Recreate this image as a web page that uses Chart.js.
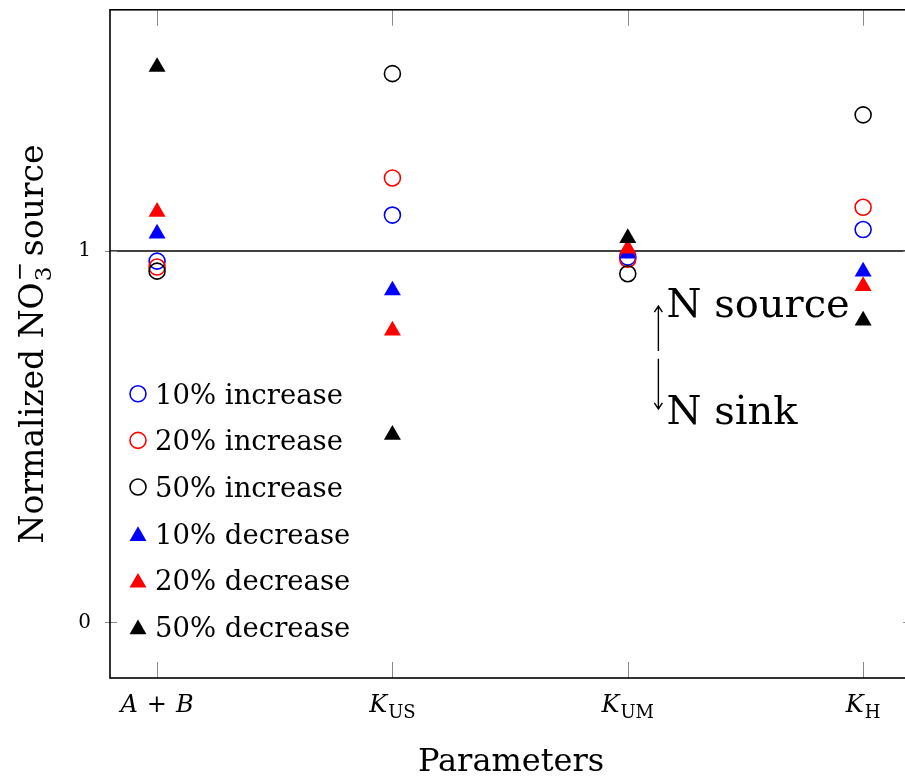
<!DOCTYPE html>
<html>
<head>
<meta charset="utf-8">
<title>Normalized NO3- source</title>
<script src="https://cdn.jsdelivr.net/npm/chart.js@4.4.1/dist/chart.umd.min.js"></script>
<style>
  html, body { margin: 0; padding: 0; background: #fff; overflow: hidden; }
  #wrap { width: 920px; height: 778px; }
</style>
</head>
<body>
<div id="wrap"><canvas id="chart" width="920" height="778"></canvas></div>
<script>
// categories use "_" for a subscript, "+" for the sum label
const CATEGORIES = ['A+B', 'K_US', 'K_UM', 'K_H'];

const INC_10 = [0.973, 1.097, 0.984, 1.058];
const INC_20 = [0.957, 1.197, 0.978, 1.118];
const INC_50 = [0.946, 1.478, 0.939, 1.367];
const DEC_10 = [1.047, 0.894, 0.993, 0.945];
const DEC_20 = [1.106, 0.786, 1.007, 0.906];
const DEC_50 = [1.496, 0.505, 1.035, 0.813];

const Y_TICKS = [0, 1];
const REFERENCE_LEVEL = 1;

const SERIF = '"DejaVu Serif", "Liberation Serif", serif';

const SERIES = [
  { label: '10% increase', values: INC_10, color: '#0000ff', shape: 'circle' },
  { label: '20% increase', values: INC_20, color: '#ff0000', shape: 'circle' },
  { label: '50% increase', values: INC_50, color: '#000000', shape: 'circle' },
  { label: '10% decrease', values: DEC_10, color: '#0000ff', shape: 'triangle' },
  { label: '20% decrease', values: DEC_20, color: '#ff0000', shape: 'triangle' },
  { label: '50% decrease', values: DEC_50, color: '#000000', shape: 'triangle' },
];

function markerStyle(series) {
  const circle = series.shape === 'circle';
  return {
    pointStyle: series.shape,
    radius: circle ? 8 : 9.8,
    borderWidth: circle ? 1.6 : 0,
    borderColor: series.color,
    backgroundColor: circle ? 'rgba(0,0,0,0)' : series.color,
  };
}

// draw a run of text pieces (font / vertical shift), centred or left-aligned
function drawPieces(ctx, pieces, x, baseline, align) {
  let total = 0;
  pieces.forEach((p) => {
    ctx.font = p.font;
    p.w = p.width != null ? p.width : ctx.measureText(p.text).width;
    total += p.w + (p.gap || 0);
  });
  let cursor = align === 'center' ? x - total / 2 : x;
  ctx.textAlign = 'left';
  ctx.textBaseline = 'alphabetic';
  pieces.forEach((p) => {
    ctx.font = p.font;
    ctx.fillText(p.text, cursor, baseline + (p.dy || 0));
    if (p.over) {
      ctx.font = p.over.font;
      ctx.fillText(p.over.text, cursor, baseline + p.over.dy);
    }
    cursor += p.w + (p.gap || 0);
  });
}

function categoryPieces(name) {
  const italic = `italic 24px ${SERIF}`;
  const upright = `24px ${SERIF}`;
  if (name.includes('_')) {
    const [base, sub] = name.split('_');
    return [
      { text: base, font: italic, gap: 1 },
      { text: sub, font: `18px ${SERIF}`, dy: 6 },
    ];
  }
  const [a, b] = name.split('+');
  return [
    { text: a, font: italic, gap: 9 },
    { text: '+', font: upright, gap: 9 },
    { text: b, font: italic },
  ];
}

function drawArrow(ctx, x, y1, y2) {
  const dir = y2 < y1 ? -1 : 1;
  ctx.beginPath();
  ctx.moveTo(x, y1);
  ctx.lineTo(x, y2);
  ctx.moveTo(x - 4, y2 - dir * 6);
  ctx.lineTo(x, y2);
  ctx.lineTo(x + 4, y2 - dir * 6);
  ctx.stroke();
}

const decorations = {
  id: 'decorations',
  beforeDatasetsDraw(chart) {
    const { ctx, chartArea, scales } = chart;
    const y = scales.y.getPixelForValue(REFERENCE_LEVEL);
    ctx.save();
    ctx.strokeStyle = '#000';
    ctx.lineWidth = 1.5;
    ctx.beginPath();
    ctx.moveTo(chartArea.left, y);
    ctx.lineTo(chartArea.right, y);
    ctx.stroke();

    // inward tick marks
    ctx.strokeStyle = '#8a8a8a';
    ctx.lineWidth = 1;
    CATEGORIES.forEach((c, i) => {
      const x = Math.round(scales.x.getPixelForValue(i)) + 0.5;
      ctx.beginPath();
      ctx.moveTo(x, chartArea.bottom);
      ctx.lineTo(x, chartArea.bottom - 16);
      ctx.moveTo(x, chartArea.top);
      ctx.lineTo(x, chartArea.top + 16);
      ctx.stroke();
    });
    Y_TICKS.forEach((v) => {
      const ty = Math.round(scales.y.getPixelForValue(v)) + 0.5;
      ctx.beginPath();
      ctx.moveTo(chartArea.left - 5, ty);
      ctx.lineTo(chartArea.left + 7, ty);
      ctx.moveTo(chartArea.right + 5, ty);
      ctx.lineTo(chartArea.right - 7, ty);
      ctx.stroke();
    });
    ctx.restore();
  },
  afterDraw(chart) {
    const { ctx, chartArea, scales } = chart;
    ctx.save();
    ctx.fillStyle = '#000';
    ctx.strokeStyle = '#000';

    // frame
    ctx.lineWidth = 1.6;
    ctx.strokeRect(chartArea.left, chartArea.top,
      chartArea.right - chartArea.left, chartArea.bottom - chartArea.top);

    // y tick labels
    ctx.font = `20px ${SERIF}`;
    ctx.textAlign = 'right';
    ctx.textBaseline = 'middle';
    Y_TICKS.forEach((v) => {
      ctx.fillText(String(v), chartArea.left - 19, scales.y.getPixelForValue(v));
    });

    // x tick labels
    CATEGORIES.forEach((c, i) => {
      drawPieces(ctx, categoryPieces(c), scales.x.getPixelForValue(i), chartArea.bottom + 34, 'center');
    });

    // axis titles
    ctx.font = `32px ${SERIF}`;
    ctx.textAlign = 'center';
    ctx.textBaseline = 'alphabetic';
    ctx.fillText('Parameters', (chartArea.left + chartArea.right) / 2 + 1, chartArea.bottom + 93);

    ctx.save();
    ctx.translate(43, (chartArea.top + chartArea.bottom) / 2);
    ctx.rotate(-Math.PI / 2);
    const big = `33px ${SERIF}`;
    const small = `23px ${SERIF}`;
    ctx.font = small;
    const subW = ctx.measureText('3').width;
    drawPieces(ctx, [
      { text: 'Normalized NO', font: big, gap: 1 },
      { text: '3', font: small, dy: 8, width: subW, over: { text: '\u2212', font: small, dy: -16 } },
      { text: ' source', font: big },
    ], 0, 0, 'center');
    ctx.restore();

    // legend
    SERIES.forEach((s, i) => {
      const cy = chartArea.top + 384 + i * 46.6;
      const cx = chartArea.left + 28;
      const m = markerStyle(s);
      ctx.fillStyle = m.backgroundColor;
      ctx.strokeStyle = m.borderColor;
      ctx.lineWidth = m.borderWidth;
      Chart.helpers.drawPoint(ctx, {
        pointStyle: m.pointStyle, radius: m.radius, rotation: 0, borderWidth: m.borderWidth,
      }, cx, s.shape === 'triangle' ? cy + 2.5 : cy);
      ctx.fillStyle = '#000';
      ctx.font = `27.5px ${SERIF}`;
      ctx.textAlign = 'left';
      ctx.textBaseline = 'alphabetic';
      ctx.fillText(s.label, chartArea.left + 45, cy + 10);
    });

    // source / sink annotation, placed in data units next to K_UM
    const ax = scales.x.getPixelForValue(2.13);
    const tx = scales.x.getPixelForValue(2.16);
    ctx.strokeStyle = '#000';
    ctx.lineWidth = 1.4;
    drawArrow(ctx, ax, scales.y.getPixelForValue(0.731), scales.y.getPixelForValue(0.852));
    drawArrow(ctx, ax, scales.y.getPixelForValue(0.710), scales.y.getPixelForValue(0.575));
    ctx.fillStyle = '#000';
    ctx.font = `40px ${SERIF}`;
    ctx.textAlign = 'left';
    ctx.fillText('N source', tx + 1, scales.y.getPixelForValue(0.822));
    ctx.fillText('N sink', tx + 1, scales.y.getPixelForValue(0.535));
    ctx.restore();
  },
};

const datasets = SERIES.map((s, i) => {
  const m = markerStyle(s);
  return {
    label: s.label,
    data: CATEGORIES.map((c, j) => ({ x: j, y: s.values[j] })),
    pointStyle: m.pointStyle,
    pointRadius: m.radius,
    pointHoverRadius: m.radius,
    pointBorderWidth: m.borderWidth,
    pointBorderColor: m.borderColor,
    pointBackgroundColor: m.backgroundColor,
    borderColor: m.borderColor,
    backgroundColor: m.backgroundColor,
    order: SERIES.length - i,
  };
});

new Chart(document.getElementById('chart'), {
  type: 'scatter',
  data: { datasets },
  options: {
    responsive: false,
    animation: false,
    layout: { padding: { top: 8, right: 6, left: 0, bottom: 0 } },
    plugins: { legend: { display: false }, tooltip: { enabled: false } },
    scales: {
      x: {
        type: 'linear',
        min: -0.2,
        max: 3.2,
        grid: { display: false },
        border: { display: false },
        ticks: { display: false },
        afterFit: (scale) => { scale.height = 100; },
      },
      y: {
        min: -0.15,
        max: 1.65,
        afterBuildTicks: (scale) => { scale.ticks = Y_TICKS.map((v) => ({ value: v })); },
        grid: { display: false, drawTicks: false },
        border: { display: false },
        ticks: { display: false },
        afterFit: (scale) => { scale.width = 110; },
      },
    },
  },
  plugins: [decorations],
});
</script>
</body>
</html>
